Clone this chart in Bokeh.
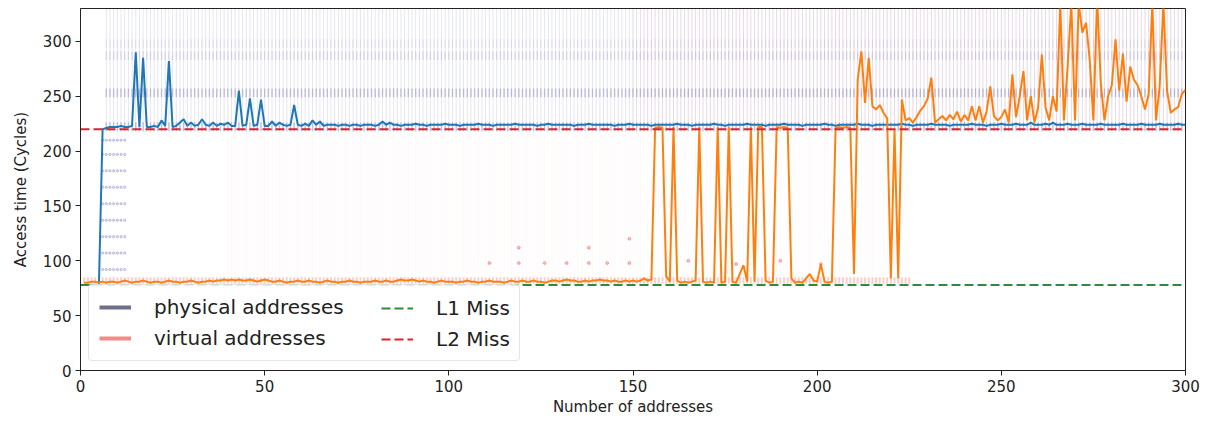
from bokeh.plotting import figure
from bokeh.models import Range1d, Legend, LegendItem, FixedTicker
from bokeh.embed import file_html
from bokeh.resources import INLINE

# ---------------- data ----------------
addresses = list(range(1, 301))

phys_median = [
    78, 78, 78, 78, 78, 220, 221, 222, 222, 222, 223, 222, 222, 223, 290, 222, 285, 222, 222, 223,
    222, 228, 223, 282, 222, 223, 226, 229, 223, 226, 223, 224, 229, 224, 223, 226, 223, 225, 224, 226,
    223, 223, 255, 223, 224, 248, 223, 224, 247, 223, 223, 227, 223, 226, 224, 223, 224, 242, 224, 223,
    225, 223, 228, 224, 227, 223, 224, 224, 224, 223, 224, 224, 223, 224, 224, 223, 224, 224, 224, 223,
    224, 227, 224, 226, 224, 224, 223, 224, 224, 224, 225, 224, 224, 223, 224, 224, 224, 224, 225, 224,
    224, 224, 223, 224, 224, 224, 224, 225, 224, 224, 224, 223, 224, 224, 224, 224, 224, 225, 224, 224,
    224, 224, 224, 223, 224, 224, 225, 224, 224, 224, 224, 224, 224, 223, 224, 224, 224, 225, 224, 224,
    224, 224, 224, 224, 223, 224, 224, 224, 225, 224, 224, 224, 224, 224, 223, 224, 224, 224, 224, 224,
    224, 225, 224, 224, 224, 223, 224, 224, 224, 224, 224, 225, 224, 224, 223, 224, 224, 224, 224, 224,
    225, 224, 224, 224, 224, 223, 224, 224, 224, 224, 225, 224, 224, 224, 224, 223, 224, 224, 224, 224,
    224, 225, 224, 224, 223, 224, 224, 224, 224, 224, 225, 224, 224, 224, 223, 224, 224, 224, 224, 224,
    224, 224, 225, 224, 224, 223, 224, 224, 224, 224, 225, 224, 224, 224, 224, 223, 224, 224, 224, 224,
    224, 225, 224, 224, 224, 223, 224, 224, 224, 225, 224, 224, 224, 225, 224, 224, 224, 226, 224, 224,
    224, 225, 224, 226, 224, 224, 224, 225, 224, 224, 224, 225, 224, 224, 224, 224, 225, 224, 224, 224,
    224, 224, 225, 224, 224, 224, 224, 225, 224, 224, 224, 224, 225, 224, 224, 224, 224, 225, 224, 224,
]

virt_median = [
    80, 80, 81, 81, 80, 81, 80, 81, 81, 80, 81, 82, 81, 80, 81, 81, 82, 81, 80, 81,
    81, 80, 81, 82, 81, 81, 80, 81, 81, 82, 81, 80, 81, 81, 82, 81, 82, 82, 83, 82,
    83, 82, 83, 82, 82, 83, 82, 81, 82, 83, 82, 81, 81, 82, 81, 80, 81, 81, 82, 81,
    81, 82, 81, 81, 80, 81, 82, 81, 81, 80, 81, 81, 82, 81, 81, 80, 81, 81, 81, 82,
    81, 81, 82, 81, 81, 82, 83, 82, 82, 83, 82, 81, 82, 81, 81, 80, 81, 82, 81, 81,
    81, 80, 81, 81, 82, 81, 81, 80, 81, 81, 82, 81, 81, 81, 80, 81, 82, 81, 81, 82,
    81, 81, 82, 81, 81, 80, 81, 82, 82, 81, 82, 83, 82, 82, 81, 81, 82, 81, 82, 82,
    83, 82, 82, 81, 82, 81, 81, 82, 81, 82, 81, 82, 84, 82, 83, 221, 222, 221, 86, 81,
    222, 82, 80, 81, 80, 81, 82, 222, 81, 80, 81, 80, 222, 80, 81, 222, 81, 80, 88, 96,
    81, 222, 81, 222, 222, 82, 80, 81, 222, 221, 222, 221, 84, 80, 81, 80, 84, 88, 82, 81,
    97, 81, 80, 81, 221, 222, 221, 222, 221, 88, 265, 291, 244, 285, 241, 238, 242, 235, 230, 84,
    220, 84, 247, 228, 230, 226, 231, 237, 241, 248, 267, 226, 229, 232, 228, 233, 229, 236, 227, 233,
    228, 241, 228, 241, 226, 236, 259, 232, 228, 231, 238, 226, 270, 231, 250, 273, 228, 250, 226, 240,
    288, 240, 228, 250, 236, 335, 228, 277, 335, 228, 335, 308, 317, 283, 228, 340, 262, 228, 250, 260,
    302, 255, 289, 245, 277, 265, 260, 250, 238, 252, 335, 228, 260, 335, 255, 235, 238, 240, 252, 256,
]
assert len(phys_median) == 300 and len(virt_median) == 300

l1_miss = 78
l2_miss = 220
x_limits = [0, 300]
y_limits = [0, 330]
x_ticks = [0, 50, 100, 150, 200, 250, 300]
y_ticks = [0, 50, 100, 150, 200, 250, 300]

# raw-sample clouds (access-time clusters behind the median lines)
phys_cloud_x = [7, 300]
phys_cloud_y = [225, 330]
phys_band_levels = [222, 253, 287, 298]
phys_ladder_x = [6, 7, 8, 9, 10, 11, 12]
phys_ladder_y = [92, 107, 122, 137, 152, 167, 182, 197, 210]
virt_low_x = [1, 225]
virt_low_y = [79, 85]
virt_mid_x = [40, 225]
virt_mid_y = [86, 215]
virt_up_x = [150, 300]
virt_up_y = [225, 330]
virt_dot_x = [111, 119, 126, 132, 138, 143, 149, 119, 138, 149, 165, 178, 190, 201]
virt_dot_y = [98, 98, 98, 98, 98, 98, 98, 112, 112, 120, 100, 97, 100, 97]

# ---------------- figure ----------------
FONT = "DejaVu Sans"
TXT = "#222222"

p = figure(width=1205, height=418, output_backend="svg", toolbar_location=None,
           x_range=Range1d(*x_limits), y_range=Range1d(*y_limits),
           min_border_left=80, min_border_right=20, min_border_top=8, min_border_bottom=48)
p.grid.visible = False
p.outline_line_color = TXT
p.outline_line_width = 1
p.background_fill_color = "white"

for ax in (p.xaxis[0], p.yaxis[0]):
    ax.major_label_text_font = FONT
    ax.major_label_text_font_size = "15px"
    ax.major_label_text_color = TXT
    ax.axis_label_text_font = FONT
    ax.axis_label_text_font_size = "15px"
    ax.axis_label_text_font_style = "normal"
    ax.axis_label_text_color = TXT
    ax.minor_tick_line_color = None
    ax.major_tick_in = 0
    ax.major_tick_out = 5
    ax.major_tick_line_color = TXT
    ax.axis_line_color = TXT
    ax.major_label_standoff = 4

p.xaxis.ticker = FixedTicker(ticks=x_ticks)
p.yaxis.ticker = FixedTicker(ticks=y_ticks)
p.xaxis.axis_label = "Number of addresses"
p.yaxis.axis_label = "Access time (Cycles)"
p.xaxis.axis_label_standoff = 3
p.yaxis.axis_label_standoff = 10

# ---- clouds ----
xs = [a for a in addresses if phys_cloud_x[0] <= a <= phys_cloud_x[1]]
p.segment(x0=xs, y0=[phys_cloud_y[0]] * len(xs), x1=xs, y1=[phys_cloud_y[1]] * len(xs),
          line_color="navy", line_alpha=0.1, line_width=1)
band_alpha = [0.25, 0.2, 0.1, 0.06]
for lvl, al in zip(phys_band_levels, band_alpha):
    p.segment(x0=xs, y0=[lvl - 4] * len(xs), x1=xs, y1=[lvl + 4] * len(xs),
              line_color="navy", line_alpha=al, line_width=1.5)

lx, ly = [], []
for a in phys_ladder_x:
    for v in phys_ladder_y:
        lx.append(a)
        ly.append(v)
p.scatter(lx, ly, size=2.5, color="navy", alpha=0.15, marker="circle")

vx = [a for a in addresses if virt_mid_x[0] <= a <= virt_mid_x[1]]
p.segment(x0=vx, y0=[virt_mid_y[0]] * len(vx), x1=vx, y1=[virt_mid_y[1]] * len(vx),
          line_color="red", line_alpha=0.025, line_width=1)
ux = [a for a in addresses if virt_up_x[0] <= a <= virt_up_x[1]]
p.segment(x0=ux, y0=[virt_up_y[0]] * len(ux), x1=ux, y1=[virt_up_y[1]] * len(ux),
          line_color="red", line_alpha=0.05, line_width=1)
bx = [a for a in addresses if virt_low_x[0] <= a <= virt_low_x[1]]
p.segment(x0=bx, y0=[virt_low_y[0]] * len(bx), x1=bx, y1=[virt_low_y[1]] * len(bx),
          line_color="red", line_alpha=0.2, line_width=2)
p.scatter(virt_dot_x, virt_dot_y, size=3, color="red", alpha=0.25, marker="circle")

# ---- medians ----
p.line(addresses, phys_median, line_color="#1f77b4", line_width=2)
p.line(addresses, virt_median, line_color="#ff7f0e", line_width=2)

# ---- miss levels ----
r_l1 = p.line(x_limits, [l1_miss, l1_miss], line_color="#2e8b3a", line_width=2, line_dash="9 4")
r_l2 = p.line(x_limits, [l2_miss, l2_miss], line_color="#e5202b", line_width=2, line_dash="9 4")

# legend swatch renderers (a single undrawable NaN point each)
nan = float("nan")
r_phys = p.line([nan], [nan], line_color="#6f6f8a", line_width=4)
r_virt = p.line([nan], [nan], line_color="#f28a8a", line_width=4)

common = dict(label_text_font=FONT, label_text_font_size="20px", label_text_color=TXT,
              glyph_width=32, glyph_height=24, label_height=24, label_standoff=23,
              padding=10, spacing=7, margin=0)

legA = Legend(items=[LegendItem(label="physical addresses", renderers=[r_phys], index=0),
                     LegendItem(label="virtual addresses", renderers=[r_virt], index=0)],
              location=(8, 9), label_width=355,
              border_line_color="#cccccc", border_line_width=1,
              background_fill_color="white", background_fill_alpha=0.85, **common)
if "border_radius" in Legend.properties():
    legA.border_radius = 4
legB = Legend(items=[LegendItem(label="L1 Miss", renderers=[r_l1]),
                     LegendItem(label="L2 Miss", renderers=[r_l2])],
              location=(291, 9), border_line_alpha=0, background_fill_alpha=0, **common)
p.add_layout(legA, "center")
p.add_layout(legB, "center")

open("out.html", "w").write(file_html(p, INLINE))
